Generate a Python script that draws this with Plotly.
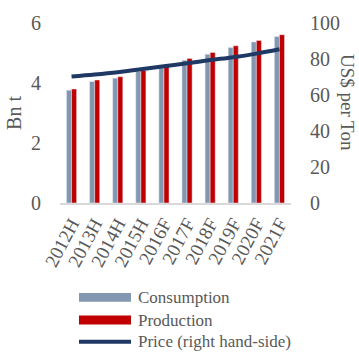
import plotly.graph_objects as go

years = ["2012H", "2013H", "2014H", "2015H", "2016F",
         "2017F", "2018F", "2019F", "2020F", "2021F"]
consumption = [3.76, 4.05, 4.16, 4.39, 4.50, 4.76, 4.96, 5.18, 5.37, 5.55]
production = [3.80, 4.10, 4.21, 4.42, 4.55, 4.82, 5.02, 5.24, 5.42, 5.61]
price = [70.3, 71.4, 72.7, 74.3, 76.0, 77.6, 79.4, 81.0, 83.0, 85.4]

C_CONS = "#8497B0"
C_PROD = "#C00000"
C_PRICE = "#1F3864"
TXT = "#595959"
FONT = "Liberation Serif"

fig = go.Figure()
fig.add_bar(x=years, y=consumption, name="Consumption", marker_color=C_CONS)
fig.add_bar(x=years, y=production, name="Production", marker_color=C_PROD)
fig.add_scatter(x=years, y=price, name="Price (right hand-side)", yaxis="y2",
                mode="lines", line=dict(color=C_PRICE, width=4, shape="spline"))

fig.update_layout(
    width=359, height=354,
    margin=dict(l=60, r=68, t=20, b=151),
    paper_bgcolor="white", plot_bgcolor="white",
    showlegend=False,
    barmode="group", bargap=0.56, bargroupgap=0,
    font=dict(family=FONT, color=TXT, size=20),
    xaxis=dict(tickangle=-62, showline=True, linecolor="#D9D9D9", linewidth=2,
               ticks="", tickfont=dict(size=19), showgrid=False),
    yaxis=dict(range=[0, 6], tickvals=[0, 2, 4, 6], showgrid=False,
               zeroline=False, showline=False, ticks="", ticklabelstandoff=18,
               title=dict(text="Bn t", standoff=4, font=dict(size=20))),
    yaxis2=dict(range=[0, 100], tickvals=[0, 20, 40, 60, 80, 100], overlaying="y",
                side="right", showgrid=False, zeroline=False, showline=False,
                ticks="", ticklabelstandoff=18),
)

# right-hand axis title reading top to bottom
fig.add_annotation(text="US$ per Ton", xref="paper", yref="paper", x=1.248, y=0.56,
                   textangle=90, showarrow=False, font=dict(size=19, color=TXT),
                   xanchor="center", yanchor="middle")

# legend drawn with wide swatches
legend_items = [("Consumption", C_CONS, "bar"), ("Production", C_PROD, "bar"),
                ("Price (right hand-side)", C_PRICE, "line")]
row_y = [299, 322, 344]
H = 354
for (label, color, kind), yy in zip(legend_items, row_y):
    yp = (H - yy - 151) / 183.0
    if kind == "bar":
        fig.add_shape(type="rect", xref="paper", yref="paper",
                      x0=(79 - 60) / 231, x1=(131 - 60) / 231,
                      y0=yp - 4.5 / 183, y1=yp + 4.5 / 183,
                      fillcolor=color, line=dict(width=0))
    else:
        fig.add_shape(type="line", xref="paper", yref="paper",
                      x0=(79 - 60) / 231, x1=(131 - 60) / 231, y0=yp, y1=yp,
                      line=dict(color=color, width=4))
    fig.add_annotation(text=label, xref="paper", yref="paper",
                       x=(136 - 60) / 231, y=yp, xanchor="left", yanchor="middle",
                       showarrow=False, font=dict(size=17, color=TXT))

fig.write_html("out.html")
